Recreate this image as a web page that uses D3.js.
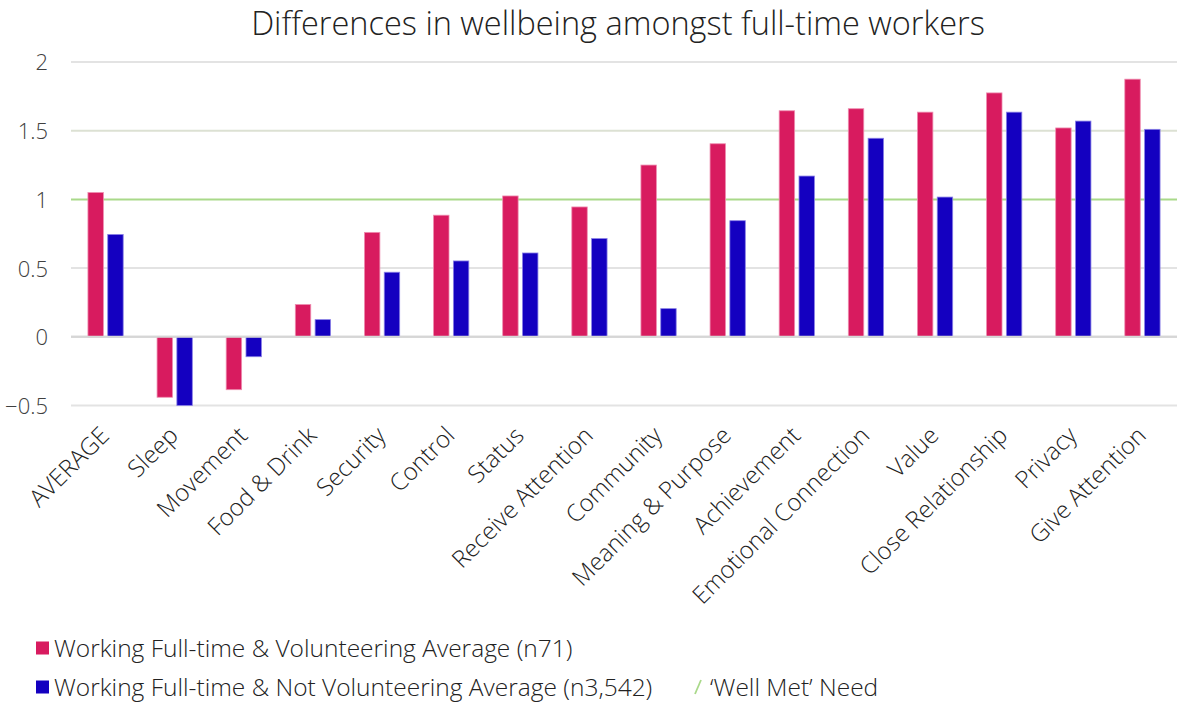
<!DOCTYPE html>
<html>
<head>
<meta charset="utf-8">
<script src="https://cdn.jsdelivr.net/npm/d3@7"></script>
<style>
  html, body { margin: 0; padding: 0; background: #ffffff; }
  svg { display: block; font-family: "Open Sans", "Lato", sans-serif; font-weight: 300; }
</style>
</head>
<body>
<svg id="chart" width="1185" height="702"></svg>
<script>
// Wellbeing needs, in display order
const categories = [
  "AVERAGE", "Sleep", "Movement", "Food & Drink", "Security", "Control",
  "Status", "Receive Attention", "Community", "Meaning & Purpose",
  "Achievement", "Emotional Connection", "Value", "Close Relationship",
  "Privacy", "Give Attention"
];

// Working full-time and volunteering (n71)
const volunteering = [
  1.05, -0.44, -0.385, 0.235, 0.76, 0.885,
  1.025, 0.945, 1.25, 1.405,
  1.645, 1.66, 1.635, 1.775,
  1.52, 1.875
];

// Working full-time and not volunteering (n3,542)
const notVolunteering = [
  0.745, -0.50, -0.145, 0.125, 0.47, 0.552,
  0.61, 0.715, 0.205, 0.845,
  1.17, 1.445, 1.017, 1.635,
  1.57, 1.51
];

const yTicks = [-0.5, 0, 0.5, 1, 1.5, 2];
const wellMetLevel = 1;

const seriesNames = [
  "Working Full-time & Volunteering Average (n71)",
  "Working Full-time & Not Volunteering Average (n3,542)"
];
const wellMetName = "\u2018Well Met\u2019 Need";

const colors = ["#D81B5F", "#1400C0"];
const strokes = ["#EE8DB0", "#8A80E6"];
const textColor = "#222222";

const svg = d3.select("#chart");
const margin = { left: 71, right: 8 };
const width = 1185;

const x0 = d3.scaleBand()
  .domain(categories)
  .range([margin.left, width - margin.right])
  .paddingInner(0.49)
  .paddingOuter(0.245);

const x1 = d3.scaleBand()
  .domain([0, 1])
  .range([0, x0.bandwidth()])
  .paddingInner(0.22);

const y = d3.scaleLinear()
  .domain([-0.5, 2])
  .range([405.5, 62]);

// Title
svg.append("text")
  .attr("x", 618)
  .attr("y", 35)
  .attr("text-anchor", "middle")
  .attr("font-size", 32.5)
  .attr("fill", textColor)
  .text("Differences in wellbeing amongst full-time workers");

// Gridlines
const gridColor = v => v === wellMetLevel ? "#A9D98A" : (v === 1.5 ? "#DCE1D3" : (v === 0 ? "#D6D6D6" : "#E3E3E3"));
svg.append("g")
  .selectAll("line")
  .data(yTicks)
  .join("line")
  .attr("x1", margin.left)
  .attr("x2", width - margin.right)
  .attr("y1", d => y(d))
  .attr("y2", d => y(d))
  .attr("stroke", gridColor)
  .attr("stroke-width", 2);

// Y axis labels
const yAxis = d3.axisLeft(y).tickValues(yTicks).tickSize(0).tickPadding(0)
  .tickFormat(d => d3.format("")(d));
const yg = svg.append("g")
  .attr("transform", "translate(48,0)")
  .call(yAxis);
yg.select(".domain").remove();
yg.selectAll("text")
  .attr("font-size", 22)
  .attr("font-family", "'Open Sans', sans-serif")
  .attr("fill", "#404040")
  .attr("dy", "0.36em");

// Bars
const series = [volunteering, notVolunteering];
const groups = svg.append("g")
  .selectAll("g")
  .data(categories)
  .join("g")
  .attr("transform", d => `translate(${x0(d)},0)`);

groups.selectAll("rect")
  .data((d, i) => series.map((s, k) => ({ k, v: s[i] })))
  .join("rect")
  .attr("x", d => x1(d.k))
  .attr("width", x1.bandwidth())
  .attr("y", d => Math.min(y(d.v), y(0)))
  .attr("height", d => Math.abs(y(d.v) - y(0)))
  .attr("fill", d => colors[d.k])
  .attr("stroke", d => strokes[d.k])
  .attr("stroke-width", 0.8);

// Zero line drawn over the bar bases
svg.append("line")
  .attr("x1", margin.left).attr("x2", width - margin.right)
  .attr("y1", y(0)).attr("y2", y(0))
  .attr("stroke", "#D6D6D6").attr("stroke-width", 2);

// X axis labels, rotated
const xAxis = d3.axisBottom(x0).tickSize(0).tickPadding(0);
const xg = svg.append("g")
  .attr("transform", "translate(0,418)")
  .call(xAxis);
xg.select(".domain").remove();
xg.selectAll("text")
  .attr("font-size", 24)
  .attr("font-family", "'Open Sans', sans-serif")
  .attr("fill", textColor)
  .attr("text-anchor", "end")
  .attr("x", 0)
  .attr("y", 0)
  .attr("dy", 0)
  .attr("transform", "translate(5,19) rotate(-45)");

// Legend
const legend = svg.append("g");
const legendRows = [
  { y: 648, name: seriesNames[0], color: colors[0] },
  { y: 687, name: seriesNames[1], color: colors[1] }
];
legendRows.forEach(r => {
  legend.append("rect")
    .attr("x", 36).attr("y", r.y - 6.5)
    .attr("width", 13).attr("height", 13)
    .attr("fill", r.color);
  legend.append("text")
    .attr("x", 54).attr("y", r.y)
    .attr("dy", "0.36em")
    .attr("font-size", 24.5)
    .attr("fill", textColor)
    .text(r.name);
});
legend.append("line")
  .attr("x1", 695).attr("y1", 694)
  .attr("x2", 701).attr("y2", 680)
  .attr("stroke", "#A9D98A").attr("stroke-width", 1.8);
legend.append("text")
  .attr("x", 710).attr("y", 687)
  .attr("dy", "0.36em")
  .attr("font-size", 24.5)
  .attr("fill", textColor)
  .text(wellMetName);
</script>
</body>
</html>
